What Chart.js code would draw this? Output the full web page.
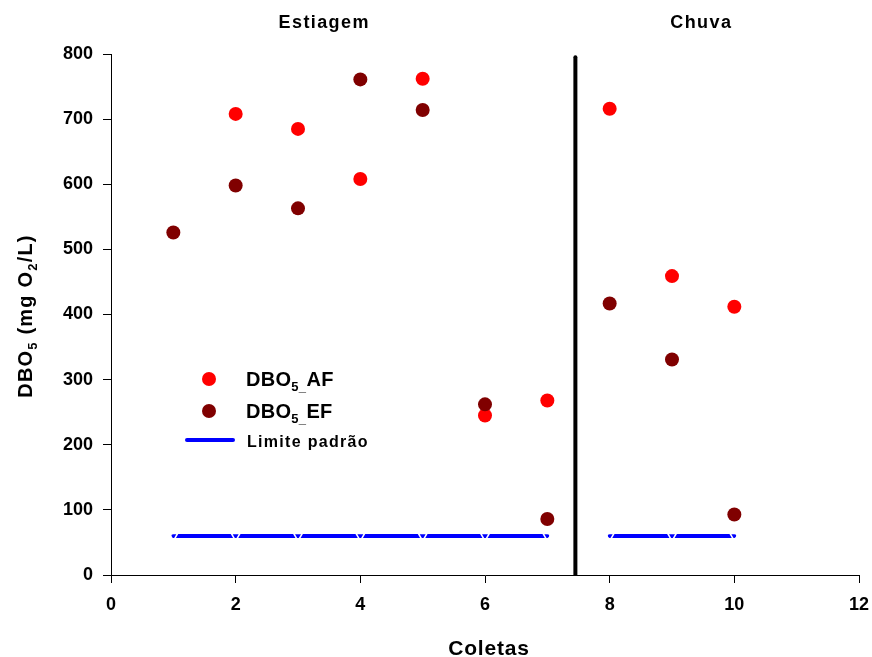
<!DOCTYPE html>
<html>
<head>
<meta charset="utf-8">
<script src="https://cdn.jsdelivr.net/npm/chart.js@4.4.1/dist/chart.umd.min.js"></script>
<style>
  html, body { margin: 0; padding: 0; background: #fff; }
  #wrap { width: 872px; height: 657px; }
</style>
</head>
<body>
<div id="wrap"><canvas id="chart" width="872" height="657"></canvas></div>
<script>
// DBO5 por coleta (mg O2/L)
const coletasAF = [2, 3, 4, 5, 6, 7, 8, 9, 10];
const dboAF = [708, 685, 608, 762, 245, 268, 716, 459, 412];

const coletasEF = [1, 2, 3, 4, 5, 6, 7, 8, 9, 10];
const dboEF = [526, 598, 563, 761, 714, 262, 86, 417, 331, 93];

// Limite padrão, separado por período
const coletasEstiagem = [1, 2, 3, 4, 5, 6, 7];
const coletasChuva = [8, 9, 10];
const limitePadrao = 60;

// Linha que separa estiagem e chuva
const divisaoX = 7.45;
const divisaoTopo = 795;

const periodos = [
  { nome: 'Estiagem', centro: 3.42 },
  { nome: 'Chuva', centro: 9.47 }
];

const xTicks = [0, 2, 4, 6, 8, 10, 12];
const yTicks = [0, 100, 200, 300, 400, 500, 600, 700, 800];

const pts = (xs, ys) => xs.map((x, i) => ({ x: x, y: ys[i] }));
const flat = (xs, v) => xs.map(x => ({ x: x, y: v }));

const ARIAL = "'Liberation Sans', Arial, sans-serif";

// draws a run of text pieces, some of them as subscripts
function drawRich(ctx, parts, x, y, spacing) {
  ctx.letterSpacing = (spacing || 0) + 'px';
  let cx = x;
  parts.forEach(p => {
    ctx.font = p.font;
    ctx.fillText(p.t, cx, y + (p.dy || 0));
    cx += ctx.measureText(p.t).width;
  });
  ctx.letterSpacing = '0px';
  return cx - x;
}
function richWidth(ctx, parts, spacing) {
  ctx.letterSpacing = (spacing || 0) + 'px';
  let w = 0;
  parts.forEach(p => { ctx.font = p.font; w += ctx.measureText(p.t).width; });
  ctx.letterSpacing = '0px';
  return w;
}

const textos = {
  id: 'textos',
  afterDraw(chart) {
    const ctx = chart.ctx;
    const xs = chart.scales.x;
    ctx.save();
    ctx.fillStyle = '#000';
    ctx.textBaseline = 'alphabetic';
    ctx.textAlign = 'left';

    // títulos dos períodos
    periodos.forEach(p => {
      ctx.font = 'bold 18px ' + ARIAL;
      ctx.letterSpacing = '1.4px';
      const w = ctx.measureText(p.nome).width;
      ctx.fillText(p.nome, xs.getPixelForValue(p.centro) - w / 2, 28);
      ctx.letterSpacing = '0px';
    });

    // título do eixo x
    ctx.font = 'bold 21px ' + ARIAL;
    ctx.letterSpacing = '0.8px';
    const wx = ctx.measureText('Coletas').width;
    ctx.fillText('Coletas', (xs.left + xs.right) / 2 + 4 - wx / 2, 655);
    ctx.letterSpacing = '0px';

    // título do eixo y
    const big = 'bold 20px ' + ARIAL, sub = 'bold 13px ' + ARIAL;
    const yParts = [
      { t: 'DBO', font: big }, { t: '5', font: sub, dy: 5 },
      { t: ' (mg O', font: big }, { t: '2', font: sub, dy: 5 },
      { t: '/L)', font: big }
    ];
    const wy = richWidth(ctx, yParts, 1.2);
    ctx.translate(32, 316);
    ctx.rotate(-Math.PI / 2);
    drawRich(ctx, yParts, -wy / 2, 0, 1.2);
    ctx.setTransform(1, 0, 0, 1, 0, 0);

    // legenda
    const lf = 'bold 20px ' + ARIAL, ls = 'bold 13px ' + ARIAL;
    const itens = chart.data.datasets.filter(d => d.legenda);
    itens.forEach(d => {
      const ly = d.legenda.y;
      if (d.showLine) {
        ctx.strokeStyle = d.borderColor;
        ctx.lineWidth = 4;
        ctx.lineCap = 'round';
        ctx.beginPath();
        ctx.moveTo(187, ly);
        ctx.lineTo(233, ly);
        ctx.stroke();
        ctx.font = 'bold 16px ' + ARIAL;
        ctx.letterSpacing = '1.3px';
        ctx.fillText(d.label, 247, ly + 7);
        ctx.letterSpacing = '0px';
      } else {
        ctx.fillStyle = d.backgroundColor;
        ctx.beginPath();
        ctx.arc(209, ly, 7, 0, Math.PI * 2);
        ctx.fill();
        ctx.fillStyle = '#000';
        drawRich(ctx, [
          { t: 'DBO', font: lf },
          { t: '5_', font: ls, dy: 5 },
          { t: d.label.split('_')[1], font: lf }
        ], 246, ly + 7, 0.3);
      }
    });
    ctx.restore();
  }
};

const limiteEstilo = {
  type: 'line',
  borderColor: '#0000ff',
  borderWidth: 4,
  borderCapStyle: 'round',
  showLine: true,
  pointStyle: 'triangle',
  rotation: 180,
  pointRadius: 5,
  pointBackgroundColor: 'rgba(0,0,255,0)',
  pointBorderColor: '#ffffff',
  pointBorderWidth: 1.5,
  order: 3
};

new Chart(document.getElementById('chart'), {
  type: 'scatter',
  data: {
    datasets: [
      {
        label: 'divisao',
        type: 'line',
        data: [{ x: divisaoX, y: 0 }, { x: divisaoX, y: divisaoTopo }],
        borderColor: '#000',
        borderWidth: 4,
        borderCapStyle: 'round',
        pointRadius: 0,
        showLine: true,
        order: 0
      },
      {
        label: 'DBO5_EF',
        data: pts(coletasEF, dboEF),
        backgroundColor: '#800000',
        borderWidth: 0,
        pointRadius: 7,
        pointHoverRadius: 7,
        order: 1,
        legenda: { y: 411 }
      },
      {
        label: 'DBO5_AF',
        data: pts(coletasAF, dboAF),
        backgroundColor: '#ff0000',
        borderWidth: 0,
        pointRadius: 7,
        pointHoverRadius: 7,
        order: 2,
        legenda: { y: 379 }
      },
      Object.assign({
        label: 'Limite padrão',
        data: flat(coletasEstiagem, limitePadrao),
        legenda: { y: 440 }
      }, limiteEstilo),
      Object.assign({
        label: 'Limite padrão (chuva)',
        data: flat(coletasChuva, limitePadrao)
      }, limiteEstilo)
    ]
  },
  options: {
    responsive: false,
    animation: false,
    events: [],
    layout: { padding: { top: 54, right: 13, left: 0, bottom: 0 } },
    plugins: {
      legend: { display: false },
      tooltip: { enabled: false }
    },
    scales: {
      x: {
        type: 'linear',
        min: 0,
        max: 12,
        afterFit: s => { s.height = 82; s.paddingLeft = 0; s.paddingRight = 0; },
        afterBuildTicks: s => { s.ticks = xTicks.map(v => ({ value: v })); },
        border: { color: '#000', width: 1 },
        grid: { drawOnChartArea: false, tickLength: 8, tickColor: '#000', tickWidth: 1 },
        ticks: {
          color: '#000',
          padding: 11,
          font: { family: ARIAL, size: 18, weight: 'bold' }
        }
      },
      y: {
        min: 0,
        max: 800,
        afterFit: s => { s.width = 111; },
        afterBuildTicks: s => { s.ticks = yTicks.map(v => ({ value: v })); },
        border: { color: '#000', width: 1 },
        grid: { drawOnChartArea: false, tickLength: 8, tickColor: '#000', tickWidth: 1 },
        ticks: {
          color: '#000',
          padding: 10,
          font: { family: ARIAL, size: 18, weight: 'bold' }
        }
      }
    }
  },
  plugins: [textos]
});
</script>
</body>
</html>
